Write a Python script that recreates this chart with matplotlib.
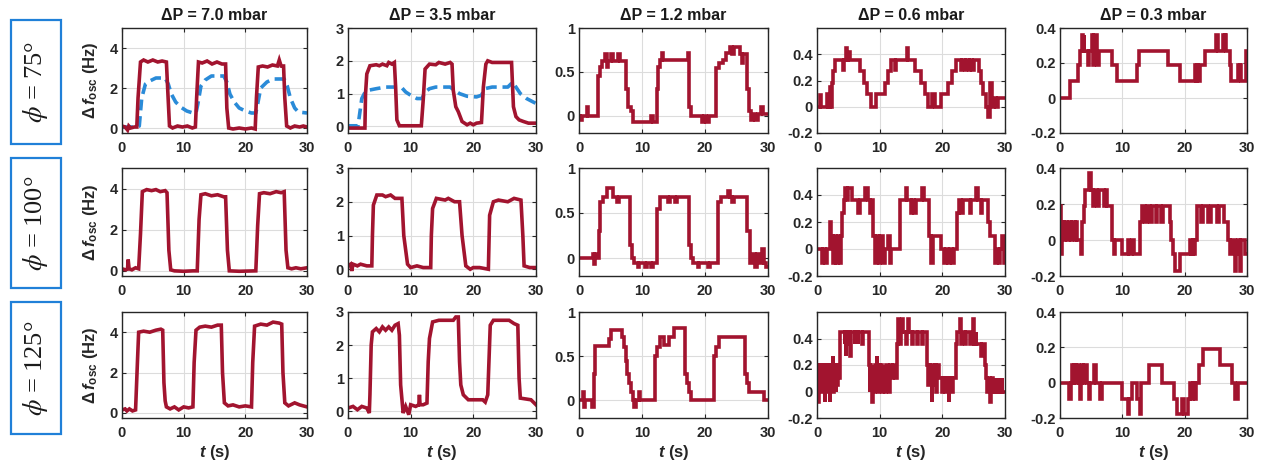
import matplotlib
matplotlib.use("Agg")
import matplotlib.pyplot as plt
from matplotlib.patches import Rectangle

plt.rcParams["font.family"] = ["Liberation Sans", "DejaVu Sans"]
plt.rcParams["mathtext.fontset"] = "custom"
plt.rcParams["mathtext.rm"] = "Liberation Sans:bold"
plt.rcParams["mathtext.it"] = "Liberation Sans:italic:bold"
plt.rcParams["mathtext.bf"] = "Liberation Sans:bold"

RED = "#A2142F"
BLUE = "#2A8BD8"
BOX = "#2080D8"

# ---------------------------------------------------------------- data
pressures = ["7.0", "3.5", "1.2", "0.6", "0.3"]
angles = ["75", "100", "125"]

ylims = [(-0.25, 5), (-0.2, 3), (-0.2, 1), (-0.2, 0.6), (-0.2, 0.4)]
yticks = [[0, 2, 4], [0, 1, 2, 3], [0, 0.5, 1], [-0.2, 0, 0.2, 0.4], [-0.2, 0, 0.2, 0.4]]
ytick_labels = [["0", "2", "4"], ["0", "1", "2", "3"], ["0", "0.5", "1"],
                ["-0.2", "0", "0.2", "0.4"], ["-0.2", "0", "0.2", "0.4"]]
xticks = [0, 10, 20, 30]

# phi = 75 deg  (t [s], delta f [Hz])
r75_70 = [(0, 0.1), (0.5, 0.05), (0.9, -0.1), (1.1, 0.1), (1.4, 0.0), (2.0, 0.05), (2.4, 0.05),
          (2.6, 1.5), (3.0, 3.3), (3.5, 3.4), (4.2, 3.3), (5.0, 3.4), (5.8, 3.3), (6.5, 3.35),
          (7.2, 3.3), (7.4, 2.0), (7.7, 0.1), (8.2, 0.0), (9.0, 0.1), (9.8, 0.05), (10.6, 0.1),
          (11.4, 0.0), (11.9, 0.05), (12.1, 1.5), (12.4, 3.3), (13.0, 3.25), (13.8, 3.35),
          (14.6, 3.2), (15.4, 3.3), (16.2, 3.2), (16.8, 3.2), (17.0, 1.0), (17.3, 0.0),
          (18.0, -0.05), (19.0, 0.0), (20.0, -0.05), (21.0, 0.0), (21.6, -0.05), (21.8, 1.5),
          (22.1, 3.05), (22.8, 3.1), (23.6, 3.05), (24.4, 3.15), (25.2, 3.1), (25.5, 3.4),
          (25.8, 3.1), (26.2, 3.1), (26.4, 1.5), (26.7, 0.1), (27.3, 0.0), (28.0, 0.1),
          (28.8, 0.05), (29.4, 0.1), (30, 0.05)]
b75_70 = [(0, 0.05), (2.5, 0.05), (2.8, 0.1), (3.2, 1.5), (3.8, 2.2), (4.5, 2.35), (5.5, 2.5),
          (7.0, 2.5), (7.5, 2.2), (8.0, 1.7), (8.7, 1.3), (9.5, 1.05), (10.5, 0.85), (11.5, 0.75),
          (12.0, 0.75), (12.3, 1.2), (12.8, 2.1), (13.5, 2.4), (14.5, 2.6), (16.5, 2.6),
          (17.0, 2.3), (17.5, 1.7), (18.2, 1.3), (19.0, 1.0), (20.0, 0.85), (21.0, 0.75),
          (21.7, 0.75), (22.0, 1.2), (22.5, 2.0), (23.5, 2.3), (24.5, 2.45), (26.3, 2.45),
          (26.8, 2.1), (27.3, 1.5), (28.0, 1.0), (28.6, 0.8), (30, 0.75)]
r75_35 = [(0, -0.05), (2.7, -0.05), (2.8, 1.0), (3.0, 1.6), (3.5, 1.85), (4.5, 1.88), (5.0, 1.85),
          (5.5, 1.9), (6.2, 1.85), (6.5, 1.95), (7.0, 1.9), (7.4, 1.95), (7.6, 1.2), (7.8, 0.2),
          (8.2, 0.02), (11.7, 0.02), (12.0, 0.8), (12.3, 1.75), (13.0, 1.9), (14.0, 1.88),
          (14.5, 1.95), (15.5, 1.9), (16.3, 1.95), (16.6, 1.9), (16.8, 1.1), (17.2, 0.6),
          (17.6, 0.45), (18.2, 0.15), (19.0, 0.05), (19.5, 0.1), (20.0, 0.05), (20.5, 0.1),
          (21.3, 0.12), (21.6, 1.2), (22.0, 1.9), (22.3, 2.0), (23.0, 1.95), (26.1, 1.95),
          (26.4, 0.6), (26.8, 0.3), (27.3, 0.2), (28.0, 0.15), (28.8, 0.1), (30, 0.1)]
b75_35 = [(0, 0.02), (1.6, 0.02), (1.8, 0.3), (2.2, 0.85), (2.6, 1.0), (3.2, 1.1), (4.5, 1.15),
          (6.0, 1.2), (8.5, 1.2), (9.2, 1.05), (10.0, 0.95), (11.0, 0.85), (11.8, 0.85),
          (12.3, 1.05), (13.0, 1.15), (14.0, 1.2), (16.3, 1.2), (17.0, 1.1), (17.8, 1.0),
          (19.0, 0.92), (20.5, 0.9), (21.3, 0.95), (21.8, 1.15), (23.0, 1.2), (25.5, 1.2),
          (26.3, 1.35), (26.8, 1.2), (27.5, 1.0), (28.5, 0.85), (30, 0.7)]
r75_12 = [(0, 0), (0.2, -0.05), (0.5, 0), (1.2, 0.1), (1.4, 0), (3.0, 0.45), (3.3, 0.55),
          (3.6, 0.62), (4.2, 0.7), (4.4, 0.55), (4.6, 0.62), (5.1, 0.7), (5.4, 0.62), (6.2, 0.7),
          (6.5, 0.62), (7.5, 0.3), (7.8, 0.1), (8.2, 0.05), (8.6, -0.07), (11.4, 0.0),
          (11.7, -0.07), (12.4, 0.3), (12.6, 0.55), (12.9, 0.63), (13.2, 0.72), (13.4, 0.63),
          (17.3, 0.72), (17.5, 0.1), (17.8, 0.0), (19.5, -0.07), (19.8, 0.0), (20.2, -0.07),
          (20.6, 0.0), (21.8, 0.54), (22.2, 0.6), (22.8, 0.63), (23.3, 0.72), (24.0, 0.78),
          (24.3, 0.7), (24.6, 0.78), (25.5, 0.7), (25.8, 0.6), (26.0, 0.7), (26.6, 0.3),
          (27.0, 0.05), (27.3, -0.05), (27.6, 0.02), (27.9, -0.05), (28.4, 0.02), (28.9, 0.1),
          (29.2, 0.02), (30, 0.02)]
r75_06 = [(0, 0), (0.5, 0.09), (0.7, 0), (1.6, 0.1), (1.8, 0.0), (2.0, 0.15), (2.2, 0.0),
          (2.4, 0.18), (2.6, 0.27), (2.8, 0.36), (4.1, 0.28), (4.3, 0.36), (4.6, 0.45),
          (4.8, 0.36), (5.0, 0.42), (5.3, 0.36), (6.9, 0.27), (7.5, 0.18), (8.0, 0.1), (8.6, 0.0),
          (9.4, 0.1), (10.9, 0.18), (11.3, 0.27), (11.8, 0.36), (12.4, 0.28), (12.6, 0.36),
          (14.3, 0.45), (14.6, 0.36), (15.7, 0.27), (16.6, 0.18), (17.2, 0.1), (17.7, 0.0),
          (18.4, 0.1), (18.9, 0.0), (19.8, 0.1), (20.9, 0.18), (21.5, 0.27), (22.2, 0.36),
          (23.0, 0.28), (23.2, 0.36), (23.6, 0.28), (23.8, 0.36), (24.2, 0.28), (24.4, 0.36),
          (24.8, 0.28), (25.0, 0.36), (25.8, 0.27), (26.2, 0.18), (26.5, 0.1), (27.0, 0.0),
          (27.3, -0.08), (27.6, 0.18), (27.9, 0.0), (28.2, 0.07), (28.6, 0.0), (28.9, 0.07),
          (30, 0.07)]
r75_03 = [(0, 0), (1.6, 0.1), (2.9, 0.19), (3.2, 0.27), (3.5, 0.36), (3.7, 0.27), (3.8, 0.36),
          (3.9, 0.27), (4.5, 0.19), (4.7, 0.27), (5.1, 0.36), (5.3, 0.19), (5.5, 0.36),
          (5.9, 0.27), (6.0, 0.19), (6.2, 0.27), (8.3, 0.19), (9.1, 0.1), (12.3, 0.19),
          (12.7, 0.27), (17.4, 0.19), (19.2, 0.1), (21.6, 0.19), (21.8, 0.1), (22.0, 0.19),
          (22.2, 0.1), (22.4, 0.19), (23.2, 0.27), (25.1, 0.36), (25.4, 0.27), (26.2, 0.36),
          (26.4, 0.27), (26.5, 0.36), (26.7, 0.27), (27.2, 0.19), (27.5, 0.1), (28.6, 0.19),
          (28.8, 0.1), (28.9, 0.19), (29.1, 0.1), (29.9, 0.27), (30, 0.27)]

# phi = 100 deg
r100_70 = [(0, 0.1), (0.6, 0.05), (0.9, 0.1), (1.0, 0.55), (1.15, 0.1), (1.6, 0.05), (2.2, 0.15),
           (2.7, 0.1), (3.0, 1.8), (3.3, 3.85), (4.0, 3.95), (4.8, 3.9), (5.5, 3.95), (6.2, 3.85),
           (7.0, 3.9), (7.3, 3.8), (7.6, 1.0), (7.9, 0.05), (8.5, 0.0), (10.0, -0.02), (11.5, 0.0),
           (12.2, 0.0), (12.5, 2.5), (12.8, 3.7), (13.5, 3.75), (14.5, 3.65), (15.5, 3.7),
           (16.5, 3.6), (16.8, 3.6), (17.1, 1.0), (17.4, 0.0), (19.0, -0.02), (21.7, 0.0),
           (22.0, 2.2), (22.3, 3.75), (23.0, 3.8), (24.0, 3.75), (25.0, 3.85), (25.8, 3.8),
           (26.3, 3.85), (26.6, 1.0), (26.9, 0.15), (27.5, 0.1), (28.2, 0.15), (29.0, 0.1),
           (30, 0.15)]
r100_35 = [(0, 0.1), (0.4, 0.15), (0.6, -0.05), (0.8, 0.15), (1.5, 0.1), (2.0, 0.15), (3.0, 0.1),
           (3.8, 0.1), (3.9, 1.0), (4.05, 1.9), (4.6, 2.2), (5.5, 2.2), (6.0, 2.15), (6.8, 2.2),
           (7.5, 2.1), (8.6, 2.1), (8.9, 1.0), (9.5, 0.15), (10.0, 0.05), (11.0, 0.1), (12.0, 0.05),
           (13.2, 0.05), (13.3, 1.0), (13.5, 1.8), (14.1, 2.1), (15.5, 2.05), (16.0, 2.1),
           (17.0, 2.0), (17.8, 2.0), (18.2, 1.0), (18.8, 0.1), (19.5, 0.0), (20.0, 0.05),
           (21.0, 0.05), (22.4, 0.0), (22.6, 1.6), (23.2, 2.0), (24.0, 2.05), (25.5, 2.0),
           (26.5, 2.1), (27.6, 2.05), (27.9, 1.0), (28.1, 0.1), (29.0, 0.05), (30, 0.05)]
r100_12 = [(0, 0), (2.2, 0.05), (2.4, -0.07), (2.6, 0.05), (2.8, 0), (3.2, 0.3), (3.4, 0.62),
           (3.8, 0.68), (4.5, 0.78), (5.4, 0.68), (6.0, 0.62), (6.3, 0.68), (8.05, 0.15),
           (8.4, 0.0), (8.8, -0.05), (9.4, -0.1), (9.6, -0.05), (10.5, -0.1), (10.8, -0.05),
           (11.5, -0.1), (11.8, -0.05), (12.4, 0.55), (12.9, 0.68), (14.2, 0.62), (14.5, 0.68),
           (15.3, 0.62), (15.6, 0.68), (17.4, 0.15), (17.7, 0.0), (18.1, -0.05), (18.9, -0.1),
           (19.1, -0.05), (20.5, -0.1), (20.8, -0.05), (22.1, 0.62), (22.5, 0.68), (23.6, 0.75),
           (23.9, 0.68), (24.3, 0.62), (24.6, 0.68), (26.6, 0.3), (27.1, -0.05), (27.6, 0.05),
           (27.9, -0.1), (28.2, 0.05), (28.6, -0.05), (29.0, 0.1), (29.3, -0.05), (29.7, -0.1),
           (30, -0.1)]
r100_06 = [(0, 0), (0.8, -0.1), (1.0, 0), (1.3, -0.1), (1.6, 0), (2.0, 0.2), (2.2, 0.1),
           (2.6, -0.1), (2.8, 0.1), (3.1, -0.1), (3.3, 0.1), (3.6, -0.1), (3.8, 0.1), (4.0, 0.27),
           (4.3, 0.36), (4.5, 0.45), (4.8, 0.36), (5.0, 0.45), (5.6, 0.36), (6.6, 0.27),
           (6.8, 0.36), (7.6, 0.45), (8.2, 0.36), (8.5, 0.27), (8.7, 0.36), (9.0, 0.1),
           (9.3, -0.1), (9.5, 0.1), (9.9, -0.1), (10.1, 0.1), (10.6, -0.1), (10.8, 0.0),
           (11.4, 0.1), (11.6, -0.1), (11.8, 0.0), (13.2, 0.36), (14.2, 0.45), (14.4, 0.36),
           (15.0, 0.27), (15.2, 0.36), (15.5, 0.27), (15.8, 0.36), (16.8, 0.45), (17.1, 0.36),
           (17.9, 0.1), (18.2, -0.1), (18.5, 0.1), (19.8, 0.0), (20.3, -0.1), (20.6, 0.0),
           (20.9, -0.1), (21.2, 0.0), (21.5, -0.1), (21.8, 0.0), (22.4, 0.27), (22.7, 0.36),
           (23.0, 0.27), (23.3, 0.36), (24.4, 0.27), (24.6, 0.36), (25.4, 0.45), (25.7, 0.36),
           (26.2, 0.27), (26.4, 0.36), (27.3, 0.2), (27.6, 0.1), (28.4, -0.1), (28.7, 0.0),
           (29.0, -0.1), (29.2, 0.0), (29.5, 0.1), (29.8, -0.1), (30, -0.1)]
r100_03 = [(0, 0.19), (0.15, -0.08), (0.3, 0.1), (0.6, 0.0), (0.8, 0.1), (1.2, 0.0), (1.4, 0.1),
           (1.8, 0.0), (2.0, 0.1), (2.4, 0.0), (2.6, 0.1), (2.7, 0.0), (3.3, -0.08), (3.5, 0.1),
           (3.8, 0.19), (4.0, 0.28), (4.6, 0.37), (4.9, 0.28), (5.3, 0.19), (5.5, 0.28),
           (6.0, 0.19), (6.3, 0.28), (7.0, 0.19), (7.4, 0.28), (7.6, 0.19), (8.4, 0.0),
           (8.6, -0.08), (8.8, 0.0), (10.0, -0.08), (10.9, 0.0), (11.1, -0.08), (11.6, 0.0),
           (11.8, -0.08), (12.9, 0.1), (13.2, 0.19), (13.6, 0.1), (13.9, 0.19), (14.5, 0.1),
           (14.8, 0.19), (15.4, 0.1), (15.6, 0.19), (16.2, 0.1), (16.5, 0.19), (17.6, 0.1),
           (17.8, 0.0), (18.1, -0.08), (18.4, -0.17), (19.2, -0.08), (20.8, 0.0), (21.0, -0.08),
           (21.3, 0.0), (21.5, -0.08), (21.7, 0.0), (22.0, 0.19), (22.6, 0.1), (22.9, 0.19),
           (23.8, 0.1), (24.2, 0.19), (25.2, 0.1), (25.5, 0.19), (26.3, 0.1), (27.0, 0.0),
           (27.3, -0.08), (27.6, 0.0), (28.0, -0.08), (28.1, -0.17), (28.3, -0.08), (28.6, 0.0),
           (28.9, -0.17), (29.1, 0.0), (29.6, -0.08), (30, -0.08)]

# phi = 125 deg
r125_70 = [(0, 0.15), (0.5, 0.2), (0.8, 0.1), (1.2, 0.2), (1.7, 0.1), (2.2, 0.15), (2.5, 2.5),
           (2.7, 4.0), (3.5, 4.05), (4.5, 4.0), (5.5, 4.1), (6.3, 4.15), (6.6, 4.1), (6.8, 1.5),
           (7.0, 0.6), (7.2, 0.3), (7.8, 0.2), (8.5, 0.3), (9.2, 0.15), (10.0, 0.3), (10.8, 0.25),
           (11.5, 0.3), (11.7, 2.5), (12.0, 4.1), (12.6, 4.25), (13.5, 4.3), (14.5, 4.25),
           (15.5, 4.35), (16.1, 4.35), (16.3, 2.0), (16.6, 0.5), (17.2, 0.35), (18.0, 0.4),
           (19.0, 0.3), (20.0, 0.35), (21.0, 0.3), (21.2, 2.5), (21.5, 4.3), (22.5, 4.4),
           (23.5, 4.35), (24.5, 4.5), (25.5, 4.45), (25.9, 4.4), (26.1, 2.0), (26.4, 0.5),
           (27.0, 0.35), (28.0, 0.5), (28.8, 0.4), (30, 0.3)]
r125_35 = [(0, 0.1), (0.8, 0.15), (1.5, 0.05), (2.2, 0.15), (3.0, 0.1), (3.4, -0.05), (3.5, 0.5),
           (3.7, 2.0), (3.9, 2.4), (4.5, 2.5), (5.0, 2.4), (5.5, 2.55), (6.0, 2.45), (6.5, 2.55),
           (7.0, 2.45), (7.5, 2.6), (8.0, 2.65), (8.2, 2.3), (8.4, 0.8), (8.8, -0.05), (9.2, 0.15),
           (9.7, -0.1), (10.0, 0.2), (10.8, 0.15), (11.3, 0.2), (11.4, 0.5), (11.5, 0.2),
           (12.0, 0.2), (12.6, 0.25), (12.8, 1.5), (13.0, 2.2), (13.5, 2.7), (14.5, 2.75),
           (16.8, 2.75), (17.2, 2.85), (17.6, 2.85), (17.8, 1.5), (18.0, 0.8), (18.4, 0.5),
           (19.2, 0.35), (21.5, 0.35), (21.9, 0.28), (22.3, 0.5), (22.7, 2.6), (23.2, 2.75),
           (25.7, 2.75), (26.5, 2.65), (27.1, 2.6), (27.3, 1.0), (27.5, 0.4), (29.2, 0.35),
           (30, 0.2)]
r125_12 = [(0, 0), (0.6, 0.1), (0.8, -0.08), (1.0, 0.0), (2.1, -0.08), (2.4, 0.3), (2.6, 0.62),
           (4.8, 0.7), (5.1, 0.8), (6.9, 0.72), (7.2, 0.6), (7.4, 0.45), (7.6, 0.3), (7.9, 0.2),
           (8.2, 0.1), (8.5, 0.0), (8.8, -0.07), (9.0, 0.0), (9.5, 0.1), (9.7, 0.0), (12.0, 0.5),
           (12.4, 0.6), (12.8, 0.72), (13.5, 0.63), (14.3, 0.72), (15.1, 0.82), (16.9, 0.3),
           (17.2, 0.2), (17.5, 0.1), (17.8, 0.0), (21.5, 0.5), (21.8, 0.6), (22.2, 0.72),
           (26.4, 0.3), (26.7, 0.2), (27.0, 0.1), (29.4, 0.0), (30, 0.0)]
r125_06 = [(0, 0.1), (0.1, 0.2), (0.2, -0.08), (0.3, 0.2), (0.4, 0.0), (0.5, 0.2), (0.6, 0.05),
           (0.7, 0.2), (0.8, 0.0), (0.9, 0.2), (1.0, 0.05), (1.1, 0.2), (1.2, -0.08), (1.3, 0.2),
           (1.4, 0.0), (1.5, 0.2), (1.6, 0.05), (1.7, 0.2), (1.8, 0.0), (1.9, 0.2), (2.0, -0.08),
           (2.1, 0.2), (2.2, 0.0), (2.3, 0.2), (2.5, 0.27), (2.6, 0.0), (2.7, 0.2), (2.8, 0.05),
           (2.9, 0.2), (3.0, 0.0), (3.1, 0.2), (3.2, 0.05), (3.3, 0.2), (3.5, 0.1), (3.6, 0.36),
           (3.7, 0.45), (4.4, 0.36), (4.5, 0.45), (4.6, 0.27), (4.7, 0.45), (5.0, 0.36),
           (5.1, 0.45), (5.3, 0.27), (5.4, 0.45), (6.0, 0.36), (6.1, 0.45), (6.5, 0.36),
           (6.6, 0.45), (7.2, 0.36), (7.3, 0.45), (8.3, 0.2), (8.4, 0.0), (8.5, 0.2), (8.6, 0.05),
           (8.7, 0.2), (8.8, -0.08), (8.9, 0.1), (9.1, 0.0), (9.2, 0.2), (9.4, 0.1), (9.5, 0.27),
           (9.6, 0.1), (9.8, 0.0), (9.9, 0.2), (10.1, 0.05), (10.2, 0.2), (10.4, 0.0), (10.5, 0.1),
           (10.8, 0.2), (10.9, 0.0), (11.0, 0.2), (11.3, 0.1), (11.5, 0.0), (11.6, 0.2),
           (11.9, 0.1), (12.2, 0.2), (12.4, 0.1), (12.8, 0.36), (12.9, 0.55), (13.1, 0.45),
           (13.3, 0.36), (13.4, 0.45), (13.6, 0.55), (13.7, 0.45), (14.2, 0.36), (14.3, 0.45),
           (14.6, 0.55), (14.7, 0.45), (15.2, 0.36), (15.3, 0.45), (16.0, 0.36), (16.1, 0.45),
           (16.8, 0.36), (16.9, 0.45), (17.6, 0.2), (17.7, 0.05), (17.8, 0.2), (18.0, 0.1),
           (18.3, -0.08), (18.4, 0.2), (18.6, 0.05), (18.8, 0.2), (19.0, 0.0), (19.1, 0.2),
           (19.4, 0.1), (20.0, 0.0), (20.1, 0.1), (20.5, 0.0), (20.6, 0.1), (21.0, -0.08),
           (21.1, 0.1), (21.6, 0.0), (21.7, 0.1), (22.2, 0.36), (22.4, 0.45), (22.8, 0.55),
           (22.9, 0.36), (23.1, 0.45), (23.6, 0.36), (23.7, 0.45), (24.4, 0.36), (24.9, 0.55),
           (25.0, 0.36), (25.3, 0.45), (25.4, 0.36), (26.2, 0.27), (26.4, 0.36), (26.8, 0.2),
           (27.0, 0.1), (27.2, 0.0), (27.4, 0.1), (27.6, -0.08), (27.7, 0.0), (28.0, 0.1),
           (28.1, 0.0), (28.5, 0.1), (28.6, 0.0), (29.0, 0.1), (29.1, 0.0), (29.5, 0.1),
           (29.6, 0.0), (30, 0.0)]
r125_03 = [(0, 0), (1.4, -0.09), (1.7, 0), (1.9, 0.1), (2.1, 0), (2.3, 0.1), (2.5, 0), (2.7, 0.1),
           (3.0, 0), (3.2, -0.09), (3.4, 0), (3.5, 0.1), (3.7, 0), (3.9, 0.1), (4.3, 0),
           (4.6, -0.09), (4.8, 0), (5.4, 0.1), (5.7, 0), (6.4, -0.09), (6.7, 0), (10.0, -0.09),
           (10.9, -0.18), (11.1, -0.09), (11.6, 0), (12.4, -0.09), (12.8, -0.18), (13.0, 0),
           (14.2, 0.1), (16.3, 0), (18.3, -0.09), (18.8, -0.18), (19.6, -0.09), (19.9, -0.18),
           (20.5, -0.09), (20.9, 0), (21.1, -0.09), (21.4, 0), (21.6, -0.09), (21.8, 0),
           (22.3, 0.1), (22.9, 0.19), (25.7, 0.1), (27.6, 0), (28.0, -0.09), (28.6, 0), (30, 0)]

red_traces = [[r75_70, r75_35, r75_12, r75_06, r75_03],
              [r100_70, r100_35, r100_12, r100_06, r100_03],
              [r125_70, r125_35, r125_12, r125_06, r125_03]]
blue_traces = {(0, 0): b75_70, (0, 1): b75_35}

# ---------------------------------------------------------------- layout (pixels)
W, H = 1265, 472
col_l = [122, 348, 579, 817, 1060]
col_r = [307, 536, 768, 1005, 1247]
row_t = [28, 168, 312]
row_b = [133, 276, 418]
box_y = [(20, 144), (158, 288), (302, 434)]

fig = plt.figure(figsize=(W / 100, H / 100), dpi=100)

for i in range(3):
    for j in range(5):
        l, r = col_l[j], col_r[j]
        t, b = row_t[i], row_b[i]
        ax = fig.add_axes([l / W, 1 - b / H, (r - l) / W, (b - t) / H])
        ax.grid(True, color="#dcdcdc", lw=0.8)
        ax.set_axisbelow(True)

        step = "steps-post" if j >= 2 else "default"
        if (i, j) in blue_traces:
            bt, bv = zip(*blue_traces[(i, j)])
            ax.plot(bt, bv, color=BLUE, lw=2.6, dashes=(3, 1.6))
        rt, rv = zip(*red_traces[i][j])
        ax.plot(rt, rv, color=RED, lw=2.6, drawstyle=step, solid_joinstyle="miter")

        ax.set_xlim(0, 30)
        ax.set_ylim(*ylims[j])
        ax.set_xticks(xticks)
        ax.set_xticklabels([str(x) for x in xticks])
        ax.set_yticks(yticks[j])
        ax.set_yticklabels(ytick_labels[j])
        ax.tick_params(direction="in", length=3, width=0.8, top=True, right=True,
                       labelsize=10.5, labelcolor="#262626", colors="#262626")
        ax.tick_params(axis="x", pad=6)
        ax.tick_params(axis="y", pad=3)
        for lab in ax.get_xticklabels() + ax.get_yticklabels():
            lab.set_fontweight("bold")
        for sp in ax.spines.values():
            sp.set_linewidth(1.0)
            sp.set_color("#262626")

        cx = (l + r) / 2 / W
        if i == 0:
            fig.text(cx, 1 - 15 / H, "\u0394P = " + pressures[j] + " mbar", ha="center",
                     va="center", fontsize=11.5, fontweight="bold", color="#1a1a1a")
        if i == 2:
            fig.text(cx, 1 - 452 / H, r"$t$ (s)", ha="center", va="center",
                     fontsize=12, fontweight="bold", color="#262626")
        if j == 0:
            fig.text(90 / W, 1 - (t + b) / 2 / H, r"$\Delta\,f_{\mathrm{osc}}$ (Hz)",
                     rotation=90, ha="center", va="center", fontsize=12,
                     fontweight="bold", color="#262626")

# row label boxes
for i in range(3):
    y0, y1 = box_y[i]
    fig.patches.append(Rectangle((11 / W, 1 - y1 / H), 50 / W, (y1 - y0) / H,
                                 transform=fig.transFigure, fill=False,
                                 edgecolor=BOX, lw=1.6))
    fig.text(36 / W, 1 - (y0 + y1) / 2 / H, r"$\phi$ = " + angles[i] + "\u00b0",
             rotation=90, ha="center", va="center", fontsize=19,
             family="Liberation Serif", math_fontfamily="stix", color="#1a1a1a")

fig.savefig("out.png", dpi=100)
